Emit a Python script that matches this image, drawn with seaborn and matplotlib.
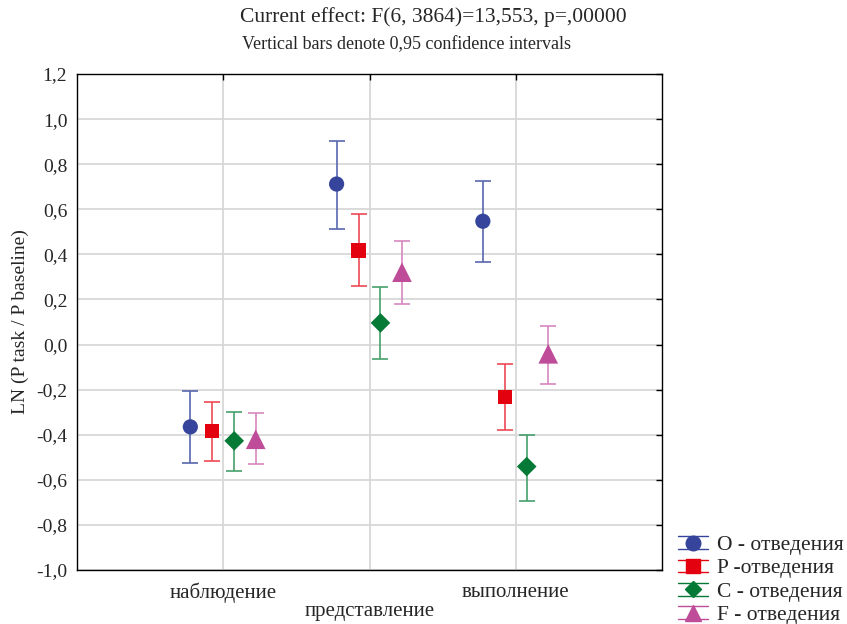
import numpy as np
import pandas as pd
import matplotlib
matplotlib.use("Agg")
import matplotlib.pyplot as plt
import seaborn as sns
from matplotlib.legend_handler import HandlerBase
from matplotlib.lines import Line2D

# ---------------- data ----------------
categories = ["наблюдение", "представление", "выполнение"]
series = ["O - отведения", "P -отведения", "C - отведения", "F - отведения"]

o_mean = [-0.365, 0.712, 0.547]
o_low = [-0.525, 0.513, 0.364]
o_high = [-0.206, 0.903, 0.724]

p_mean = [-0.383, 0.417, -0.233]
p_low = [-0.516, 0.259, -0.380]
p_high = [-0.255, 0.578, -0.086]

c_mean = [-0.427, 0.096, -0.541]
c_low = [-0.560, -0.065, -0.696]
c_high = [-0.300, 0.255, -0.402]

f_mean = [-0.420, 0.321, -0.041]
f_low = [-0.530, 0.181, -0.173]
f_high = [-0.303, 0.458, 0.082]

y_ticks = [1.2, 1.0, 0.8, 0.6, 0.4, 0.2, 0.0, -0.2, -0.4, -0.6, -0.8, -1.0]
y_tick_labels = ["1,2", "1,0", "0,8", "0,6", "0,4", "0,2", "0,0",
                 "-0,2", "-0,4", "-0,6", "-0,8", "-1,0"]

title = "Current effect: F(6, 3864)=13,553, p=,00000"
subtitle = "Vertical bars denote 0,95 confidence intervals"
y_label = "LN (P task / P baseline)"

# ---------------- style ----------------
sns.set_theme(style="white")
plt.rcParams["font.family"] = ["Liberation Serif", "DejaVu Serif"]

marker_colors = ["#36459B", "#E3000F", "#047A36", "#BE4C98"]
bar_colors = ["#5867AE", "#EC4A55", "#45A06B", "#D687BE"]
markers = ["o", "s", "D", "^"]
sizes = [120, 105, 100, 200]
offsets = [-0.225, -0.075, 0.075, 0.222]

means = [o_mean, p_mean, c_mean, f_mean]
lows = [o_low, p_low, c_low, f_low]
highs = [o_high, p_high, c_high, f_high]

rows = []
for s, name in enumerate(series):
    for i, cat in enumerate(categories):
        rows.append(dict(series=name, category=cat, idx=i, mean=means[s][i],
                         low=lows[s][i], high=highs[s][i]))
df = pd.DataFrame(rows)
df["x"] = df["idx"] + df["series"].map(dict(zip(series, offsets)))

fig = plt.figure(figsize=(8.47, 6.24), dpi=100)
ax = fig.add_axes([0.0909, 0.0865, 0.6907, 0.7949])

# grid
for v in range(len(categories)):
    ax.axvline(v, color="#D8D8D8", lw=1.3, zorder=0)
for yv in y_ticks:
    ax.axhline(yv, color="#D8D8D8", lw=1.3, zorder=0)

for s, name in enumerate(series):
    sub = df[df["series"] == name]
    ax.errorbar(sub["x"], sub["mean"],
                yerr=[sub["mean"] - sub["low"], sub["high"] - sub["mean"]],
                fmt="none", ecolor=bar_colors[s], elinewidth=1.2,
                capsize=5.8, capthick=1.2, zorder=2)
    sns.scatterplot(data=sub, x="x", y="mean", color=marker_colors[s],
                    marker=markers[s], s=sizes[s], edgecolor="none",
                    linewidth=0, legend=False, ax=ax, zorder=3)

ax.set_xlim(-1, 3)
ax.set_ylim(-1.0, 1.2)
ax.set_yticks(y_ticks)
ax.set_yticklabels(y_tick_labels, fontsize=14)
ax.set_xticks(range(len(categories)))
xt = [c if i != 1 else "\n" + c for i, c in enumerate(categories)]
ax.set_xticklabels(xt, fontsize=15, linespacing=1.0)
ax.set_xlabel("")
ax.set_ylabel(y_label, fontsize=14, labelpad=5)
ax.tick_params(axis="both", direction="in", length=4, width=1, color="black",
               top=True, right=True, pad=7)
ax.tick_params(axis="x", pad=9)
for sp in ax.spines.values():
    sp.set_visible(True)
    sp.set_color("black")
    sp.set_linewidth(1.0)

fig.text(240 / 847, 1 - 17 / 624, title, fontsize=15.5, ha="left", va="center")
fig.text(242 / 847, 1 - 45 / 624, subtitle, fontsize=13, ha="left", va="center")


class BarMarkerHandler(HandlerBase):
    def __init__(self, color, marker, ms):
        super().__init__()
        self.color, self.marker, self.ms = color, marker, ms

    def create_artists(self, legend, orig_handle, xdescent, ydescent, width,
                       height, fontsize, trans):
        cy = height / 2 - ydescent
        h = 4.6
        l1 = Line2D([0, width], [cy + h, cy + h], color=self.color, lw=1.0,
                    transform=trans)
        l2 = Line2D([0, width], [cy - h, cy - h], color=self.color, lw=1.0,
                    transform=trans)
        m = Line2D([width / 2], [cy], marker=self.marker, color=self.color,
                   markersize=self.ms, linestyle="none", transform=trans)
        return [l1, l2, m]


handles = [Line2D([], [], label=n) for n in series]
hmap = {h: BarMarkerHandler(marker_colors[i], markers[i], [10.5, 10, 8, 12][i])
        for i, h in enumerate(handles)}
leg = fig.legend(handles=handles, labels=series, handler_map=hmap,
                 loc="lower left", bbox_to_anchor=(664 / 847, -0.024),
                 frameon=False, fontsize=15.5, handlelength=1.4,
                 handleheight=0.8, labelspacing=0.12, handletextpad=0.4,
                 borderpad=0.15)

fig.savefig("out.png", dpi=100)
